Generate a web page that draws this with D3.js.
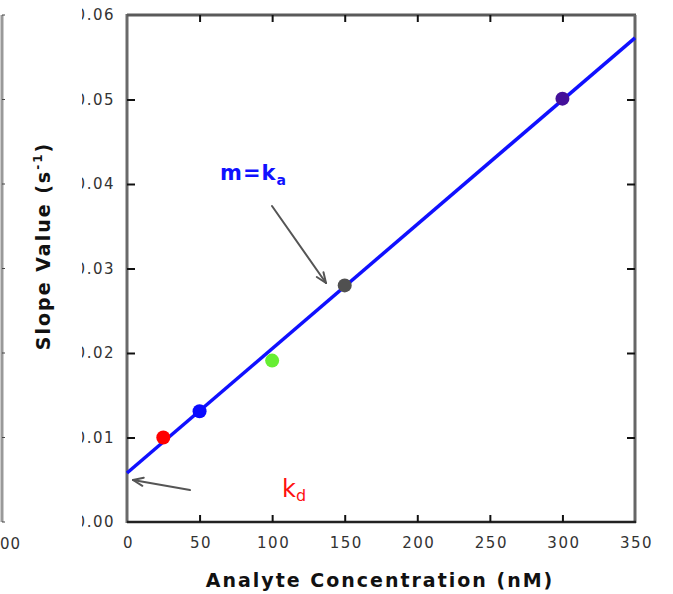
<!DOCTYPE html>
<html>
<head>
<meta charset="utf-8">
<script src="https://cdn.jsdelivr.net/npm/d3@7"></script>
<style>
  html, body { margin: 0; padding: 0; background: #fff; }
  svg { display: block; }
</style>
</head>
<body>
<svg id="chart" width="673" height="594"></svg>
<script>
// Measured slopes versus analyte concentration
const concentrations = [25, 50, 100, 150, 300];           // nM
const slopes = [0.0100, 0.0131, 0.0191, 0.0280, 0.0501];   // s^-1
const pointColors = ["#ff0000", "#0a0aff", "#66ee33", "#505050", "#44109a"];

// Fitted line end points (intercept k_d at 0 nM)
const fitConc = [0, 350];
const fitSlope = [0.0058, 0.0573];

const xTicks = [0, 50, 100, 150, 200, 250, 300, 350];
const yTicks = [0, 0.01, 0.02, 0.03, 0.04, 0.05, 0.06];

const FONT = "DejaVu Sans, Verdana, sans-serif";
const svg = d3.select("#chart");
const plotL = 127, plotR = 635, plotT = 15, plotB = 522;

const x = d3.scaleLinear().domain([0, 350]).range([plotL, plotR]);
const y = d3.scaleLinear().domain([0, 0.06]).range([plotB, plotT]);

// Edge of the neighbouring panel on the left
const edge = svg.append("g");
edge.append("line").attr("x1", 2).attr("x2", 2).attr("y1", plotT).attr("y2", plotB)
  .attr("stroke", "#999").attr("stroke-width", 3);
edge.selectAll("line.t").data(yTicks).join("line").attr("class", "t")
  .attr("x1", 2).attr("x2", 5).attr("y1", d => y(d)).attr("y2", d => y(d))
  .attr("stroke", "#444").attr("stroke-width", 1);
edge.append("text").attr("x", 0).attr("y", 549)
  .attr("font-family", FONT).attr("font-size", 15).attr("letter-spacing", 1)
  .attr("fill", "#333").text("00");

// Clip for the y tick labels (leading digit partly hidden)
svg.append("defs").append("clipPath").attr("id", "ylabClip")
  .append("rect").attr("x", 82).attr("y", 0).attr("width", 60).attr("height", 594);

// Frame
svg.append("line").attr("x1", plotL).attr("x2", plotL).attr("y1", plotT - 1).attr("y2", plotB + 1)
  .attr("stroke", "#6a6a6a").attr("stroke-width", 3);
svg.append("line").attr("x1", plotL).attr("x2", plotR + 1).attr("y1", plotT).attr("y2", plotT)
  .attr("stroke", "#5a5a5a").attr("stroke-width", 3);
svg.append("line").attr("x1", plotR).attr("x2", plotR).attr("y1", plotT).attr("y2", plotB + 1)
  .attr("stroke", "#666").attr("stroke-width", 3);
svg.append("line").attr("x1", plotL).attr("x2", plotR + 1).attr("y1", plotB).attr("y2", plotB)
  .attr("stroke", "#222").attr("stroke-width", 2.5);

// Axes with inward ticks
const xAxis = svg.append("g").attr("transform", `translate(0,${plotB})`)
  .call(d3.axisBottom(x).tickValues(xTicks).tickFormat(d3.format("d"))
    .tickSize(-7).tickSizeOuter(0).tickPadding(15));
const yAxis = svg.append("g").attr("transform", `translate(${plotL},0)`)
  .call(d3.axisLeft(y).tickValues(yTicks).tickFormat("")
    .tickSize(-8).tickSizeOuter(0));
const xTop = svg.append("g").attr("transform", `translate(0,${plotT})`)
  .call(d3.axisTop(x).tickValues(xTicks.slice(1, -1)).tickFormat("").tickSize(-7).tickSizeOuter(0));
const yRight = svg.append("g").attr("transform", `translate(${plotR},0)`)
  .call(d3.axisRight(y).tickValues(yTicks.slice(1, -1)).tickFormat("").tickSize(-8).tickSizeOuter(0));

[xAxis, yAxis, xTop, yRight].forEach(g => {
  g.select(".domain").remove();
  g.selectAll(".tick line").attr("stroke", "#111").attr("stroke-width", 2);
});
xAxis.selectAll(".tick").filter(d => d === 0 || d === 350).select("line").remove();
yAxis.selectAll(".tick").filter(d => d === 0 || d === 0.06).select("line").remove();
xAxis.selectAll(".tick text").attr("font-family", FONT).attr("font-size", 15)
  .attr("letter-spacing", 1.5).attr("fill", "#333").attr("dx", 1);

// Y tick labels, clipped in page space
svg.append("g").attr("clip-path", "url(#ylabClip)")
  .selectAll("text").data(yTicks).join("text")
  .attr("x", plotL - 12).attr("y", d => y(d)).attr("dy", "0.36em")
  .attr("text-anchor", "end").attr("letter-spacing", 1.5)
  .attr("font-family", FONT).attr("font-size", 15)
  .attr("fill", "#333").text(d => d3.format(".2f")(d));

// Fitted line
const fit = fitConc.map((c, i) => [c, fitSlope[i]]);
svg.append("path").datum(fit)
  .attr("d", d3.line().x(d => x(d[0])).y(d => y(d[1])))
  .attr("fill", "none").attr("stroke", "#1010ff").attr("stroke-width", 3.5);

// Data points
svg.selectAll("circle.pt").data(concentrations).join("circle").attr("class", "pt")
  .attr("cx", d => x(d)).attr("cy", (d, i) => y(slopes[i])).attr("r", 7)
  .attr("fill", (d, i) => pointColors[i]);

// Annotation arrows
function arrow(x1, y1, x2, y2) {
  const g = svg.append("g").attr("stroke", "#555").attr("fill", "none")
    .attr("stroke-linecap", "round");
  g.append("line").attr("x1", x1).attr("y1", y1).attr("x2", x2).attr("y2", y2)
    .attr("stroke-width", 2);
  const a = Math.atan2(y2 - y1, x2 - x1);
  const len = 11, spread = 0.38;
  [-spread, spread].forEach(s => {
    g.append("line").attr("x1", x2).attr("y1", y2)
      .attr("x2", x2 - len * Math.cos(a + s)).attr("y2", y2 - len * Math.sin(a + s))
      .attr("stroke-width", 2);
  });
}
arrow(272, 206, 326, 283);
arrow(190, 490, 133, 480);

// Labels
const ka = svg.append("text").attr("x", 220).attr("y", 180)
  .attr("font-family", FONT).attr("font-weight", "bold").attr("letter-spacing", 1)
  .attr("font-size", 21).attr("fill", "#1010ff");
ka.append("tspan").text("m=k");
ka.append("tspan").attr("font-size", 14).attr("dy", 5).text("a");

const kd = svg.append("text").attr("x", 282).attr("y", 497)
  .attr("font-family", FONT)
  .attr("font-size", 24).attr("fill", "#ff1010");
kd.append("tspan").text("k");
kd.append("tspan").attr("font-size", 16).attr("dy", 4).text("d");

// Axis titles
svg.append("text").attr("x", 380).attr("y", 587).attr("text-anchor", "middle")
  .attr("font-family", FONT).attr("font-weight", "bold")
  .attr("font-size", 19).attr("letter-spacing", 2).attr("fill", "#111")
  .text("Analyte Concentration (nM)");

const yt = svg.append("text").attr("transform", "translate(50,246) rotate(-90)")
  .attr("text-anchor", "middle").attr("letter-spacing", 2)
  .attr("font-family", FONT).attr("font-weight", "bold")
  .attr("font-size", 19).attr("fill", "#111");
yt.append("tspan").text("Slope Value (s");
yt.append("tspan").attr("font-size", 12).attr("dy", -8).text("-1");
yt.append("tspan").attr("dy", 8).text(")");
</script>
</body>
</html>
